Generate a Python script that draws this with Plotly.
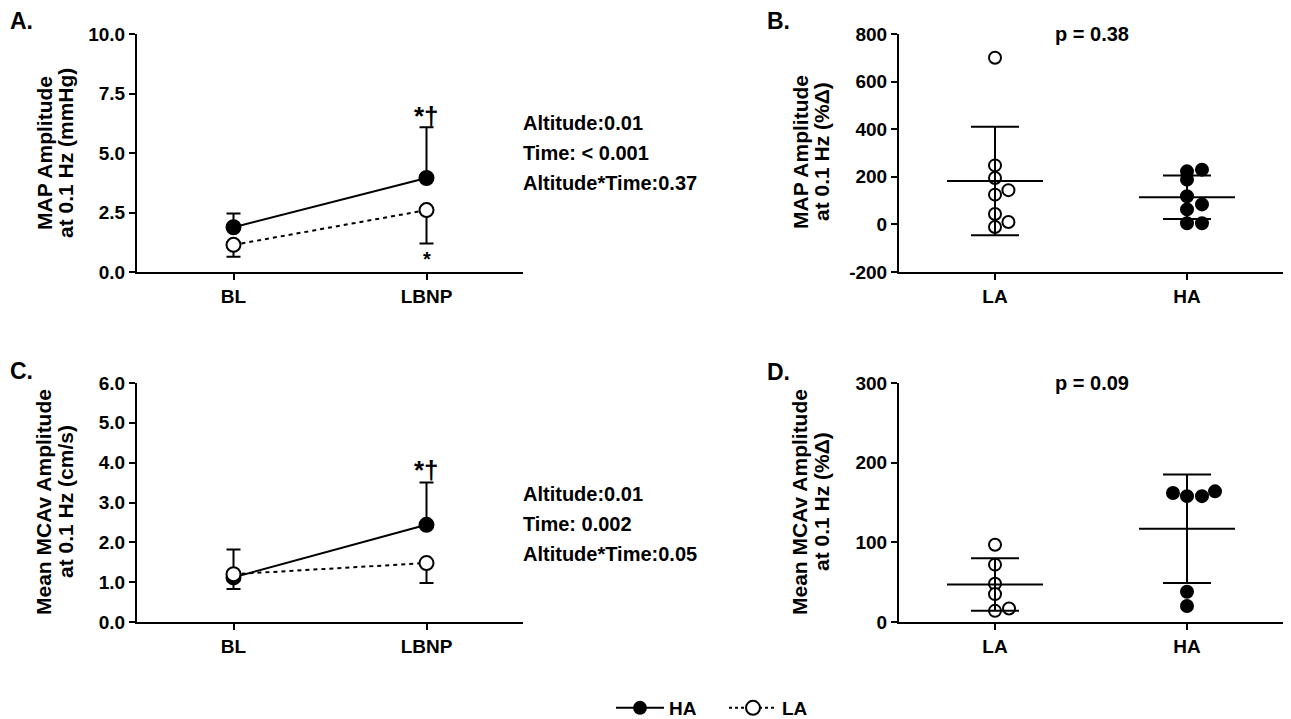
import plotly.graph_objects as go

# ---------------- data ----------------
time_cats = ["BL", "LBNP"]
group_cats = ["LA", "HA"]

# Panel A: MAP amplitude (mmHg)
a_ha_mean = [1.88, 3.95]
a_ha_sd = [0.58, 2.13]
a_la_mean = [1.14, 2.6]
a_la_sd = [0.5, 1.4]

# Panel C: Mean MCAv amplitude (cm/s)
c_ha_mean = [1.12, 2.44]
c_ha_sd = [0.7, 1.06]
c_la_mean = [1.2, 1.48]
c_la_sd = [0.37, 0.5]

# Panel B: MAP amplitude %Δ (individual points)
b_la_pts = [700, 248, 195, 144, 125, 44, 10, -11]
b_ha_pts = [223, 230, 188, 118, 84, 63, 5, 5]
b_mean = [182, 114]
b_sd = [228, 91]

# Panel D: MCAv amplitude %Δ (individual points)
d_la_pts = [97, 72, 48, 35, 14, 17]
d_ha_pts = [162, 158, 158, 164, 38, 20]
d_mean = [47, 117]
d_sd = [33, 68]

# tick labels
a_ticks = [0, 2.5, 5, 7.5, 10]
a_ticktext = ["0.0", "2.5", "5.0", "7.5", "10.0"]
b_ticks = [-200, 0, 200, 400, 600, 800]
b_ticktext = ["-200", "0", "200", "400", "600", "800"]
c_ticks = [0, 1, 2, 3, 4, 5, 6]
c_ticktext = ["0.0", "1.0", "2.0", "3.0", "4.0", "5.0", "6.0"]
d_ticks = [0, 100, 200, 300]
d_ticktext = ["0", "100", "200", "300"]

stats_a = ["Altitude:0.01", "Time: < 0.001", "Altitude*Time:0.37"]
stats_c = ["Altitude:0.01", "Time: 0.002", "Altitude*Time:0.05"]
p_b = "p = 0.38"
p_d = "p = 0.09"

# ---------------- styling / layout helpers ----------------
W, H = 1291, 719
FONT = "Liberation Sans, Arial, Helvetica, sans-serif"

def px_x(p):
    return p / W

def px_y(p):
    return 1 - p / H

# jitter offsets (x units) for the scatter dots
b_la_jit = [0, 0, 0, 0.07, 0, 0, 0.07, 0]
b_ha_jit = [0, 0.078, 0, 0, 0.078, 0, 0, 0.078]
d_la_jit = [0, 0, 0, 0, 0, 0.073]
d_ha_jit = [-0.073, 0, 0.078, 0.146, 0, 0]

fig = go.Figure()

def err(arr, up=True, w=7):
    zeros = [0] * len(arr)
    return dict(type="data", symmetric=False,
                array=arr if up else zeros,
                arrayminus=zeros if up else arr,
                color="black", thickness=2, width=w)

def line_panel(xa, ya, ha_m, ha_s, la_m, la_s):
    xs = list(range(len(time_cats)))
    fig.add_trace(go.Scatter(x=xs, y=ha_m, xaxis=xa, yaxis=ya, mode="lines+markers",
                             line=dict(color="black", width=2),
                             marker=dict(size=14, color="black", line=dict(color="black", width=2)),
                             error_y=err(ha_s, True), showlegend=False, cliponaxis=False))
    fig.add_trace(go.Scatter(x=xs, y=la_m, xaxis=xa, yaxis=ya, mode="lines+markers",
                             line=dict(color="black", width=2, dash="4px,4px"),
                             marker=dict(size=14, color="white", line=dict(color="black", width=2)),
                             error_y=err(la_s, False), showlegend=False, cliponaxis=False))

def dot_panel(xa, ya, la_pts, la_jit, ha_pts, ha_jit, mean, sd):
    fig.add_trace(go.Scatter(x=[0 + j for j in la_jit], y=la_pts, xaxis=xa, yaxis=ya,
                             mode="markers",
                             marker=dict(size=12, color="white", line=dict(color="black", width=2)),
                             showlegend=False, cliponaxis=False))
    fig.add_trace(go.Scatter(x=[1 + j for j in ha_jit], y=ha_pts, xaxis=xa, yaxis=ya,
                             mode="markers",
                             marker=dict(size=12, color="black", line=dict(color="black", width=2)),
                             showlegend=False, cliponaxis=False))
    fig.add_trace(go.Scatter(x=list(range(len(group_cats))), y=mean, xaxis=xa, yaxis=ya,
                             mode="markers", marker=dict(size=1, color="rgba(0,0,0,0)"),
                             error_y=dict(type="data", array=sd, color="black", thickness=2, width=24),
                             error_x=dict(type="data", array=[0.25] * len(mean), color="black",
                                          thickness=2, width=0),
                             showlegend=False, cliponaxis=False))

line_panel("x", "y", a_ha_mean, a_ha_sd, a_la_mean, a_la_sd)
dot_panel("x2", "y2", b_la_pts, b_la_jit, b_ha_pts, b_ha_jit, b_mean, b_sd)
line_panel("x3", "y3", c_ha_mean, c_ha_sd, c_la_mean, c_la_sd)
dot_panel("x4", "y4", d_la_pts, d_la_jit, d_ha_pts, d_ha_jit, d_mean, d_sd)

# legend entries
fig.add_trace(go.Scatter(x=[None], y=[None], mode="lines+markers", name="HA",
                         line=dict(color="black", width=2),
                         marker=dict(size=14, color="black")))
fig.add_trace(go.Scatter(x=[None], y=[None], mode="lines+markers", name="LA",
                         line=dict(color="black", width=2, dash="3px,3px"),
                         marker=dict(size=14, color="white", line=dict(color="black", width=2))))

tickfont = dict(family=FONT, size=19, color="black", weight="bold")

def xax(dom, anchor, cats):
    return dict(domain=dom, anchor=anchor, range=[-0.5, 1.5], automargin=False,
                tickmode="array", tickvals=list(range(len(cats))), ticktext=cats,
                showline=True, linecolor="black", linewidth=2, ticks="outside",
                ticklen=6, tickwidth=2, tickcolor="black", showgrid=False, zeroline=False,
                tickfont=tickfont)

def yax(dom, anchor, rng, tv, tt):
    return dict(domain=dom, anchor=anchor, range=rng, automargin=False,
                tickmode="array", tickvals=tv, ticktext=tt,
                showline=True, linecolor="black", linewidth=2,
                ticks="outside", ticklen=6, tickwidth=2, tickcolor="black",
                showgrid=False, zeroline=False, tickfont=tickfont)

xl = [px_x(137), px_x(523)]
xr = [px_x(899), px_x(1283)]
yt = [px_y(272), px_y(34)]
yb = [px_y(622), px_y(383)]

fig.update_layout(
    width=W, height=H, margin=dict(l=0, r=0, t=0, b=0, autoexpand=False),
    paper_bgcolor="white", plot_bgcolor="white",
    font=dict(family=FONT, size=19, color="black", weight="bold"),
    xaxis=xax(xl, "y", time_cats), yaxis=yax(yt, "x", [0, 10], a_ticks, a_ticktext),
    xaxis2=xax(xr, "y2", group_cats), yaxis2=yax(yt, "x2", [-200, 800], b_ticks, b_ticktext),
    xaxis3=xax(xl, "y3", time_cats), yaxis3=yax(yb, "x3", [0, 6], c_ticks, c_ticktext),
    xaxis4=xax(xr, "y4", group_cats), yaxis4=yax(yb, "x4", [0, 300], d_ticks, d_ticktext),
    showlegend=True,
    legend=dict(orientation="h", x=px_x(611), xanchor="left", y=px_y(708), yanchor="middle",
                font=dict(family=FONT, size=19, color="black", weight="bold"),
                bgcolor="rgba(0,0,0,0)", itemwidth=48, traceorder="normal",
                entrywidth=50, entrywidthmode="pixels"),
)

ann = []
def txt(x, y, s, size=19, xanchor="left", angle=0):
    ann.append(dict(x=px_x(x), y=px_y(y), xref="paper", yref="paper", text=s,
                    showarrow=False, xanchor=xanchor, yanchor="middle", textangle=angle,
                    font=dict(family=FONT, size=size, color="black", weight="bold")))

# panel letters
txt(8, 21, "A.", 23)
txt(765, 21, "B.", 23)
txt(8, 371, "C.", 23)
txt(765, 372, "D.", 23)

# y-axis titles (two lines each)
txt(45, 153, "MAP Amplitude", 21, "center", -90)
txt(66, 153, "at 0.1 Hz (mmHg)", 21, "center", -90)
txt(44, 502, "Mean MCAv Amplitude", 21, "center", -90)
txt(66, 502, "at 0.1 Hz (cm/s)", 21, "center", -90)
txt(801, 152, "MAP Amplitude", 21, "center", -90)
txt(822, 152, "at 0.1 Hz (%Δ)", 21, "center", -90)
txt(800, 502, "Mean MCAv Amplitude", 21, "center", -90)
txt(822, 502, "at 0.1 Hz (%Δ)", 21, "center", -90)

# statistics text
for i, s in enumerate(stats_a):
    txt(521, 123 + 30 * i, s, 20)
for i, s in enumerate(stats_c):
    txt(521, 494 + 30 * i, s, 20)

# p values
txt(1092, 34, p_b, 20, "center")
txt(1092, 383, p_d, 20, "center")

# significance markers (data coordinates)
ann.append(dict(x=1, y=6.55, xref="x", yref="y", text="*†", showarrow=False,
                xanchor="center", yanchor="middle",
                font=dict(family=FONT, size=26, color="black", weight="bold")))
ann.append(dict(x=1, y=0.55, xref="x", yref="y", text="*", showarrow=False,
                xanchor="center", yanchor="middle",
                font=dict(family=FONT, size=20, color="black", weight="bold")))
ann.append(dict(x=1, y=3.82, xref="x3", yref="y3", text="*†", showarrow=False,
                xanchor="center", yanchor="middle",
                font=dict(family=FONT, size=26, color="black", weight="bold")))

fig.update_layout(annotations=ann)
fig.write_html("out.html")
